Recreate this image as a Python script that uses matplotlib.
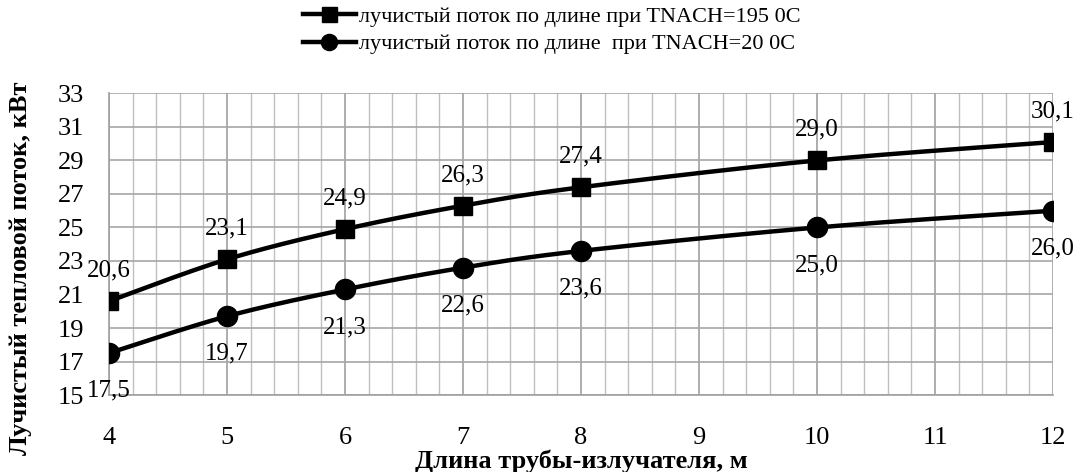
import numpy as np
import matplotlib
matplotlib.use("Agg")
import matplotlib.pyplot as plt
from matplotlib.ticker import MultipleLocator, FixedLocator

# --- data ---
length_m = [4, 5, 6, 7, 8, 10, 12]
flux_195 = [20.6, 23.1, 24.9, 26.3, 27.4, 29.0, 30.1]
flux_20 = [17.5, 19.7, 21.3, 22.6, 23.6, 25.0, 26.0]
y_ticks = [15, 17, 19, 21, 23, 25, 27, 29, 31, 33]
label_195 = "лучистый поток по длине при TNACH=195 0C"
label_20 = "лучистый поток по длине  при TNACH=20 0C"
x_title = "Длина трубы-излучателя, м"
y_title = "Лучистый тепловой поток, кВт"


def smooth_curve(xs, ys, n=40):
    # Bezier smoothing through the points (same scheme spreadsheet charts use)
    p = np.column_stack([xs, ys]).astype(float)
    p = np.vstack([p[0], p, p[-1]])
    out = []
    for i in range(1, len(p) - 2):
        p0, p1, p2, p3 = p[i - 1], p[i], p[i + 1], p[i + 2]
        c1 = p1 + (p2 - p0) / 6.0
        c2 = p2 - (p3 - p1) / 6.0
        t = np.linspace(0, 1, n)[:, None]
        seg = ((1 - t) ** 3) * p1 + 3 * ((1 - t) ** 2) * t * c1 + 3 * (1 - t) * t ** 2 * c2 + t ** 3 * p2
        out.append(seg if i == 1 else seg[1:])
    seg = np.vstack(out)
    return seg[:, 0], seg[:, 1]


plt.rcParams['font.family'] = ['Liberation Serif', 'DejaVu Serif']

fig = plt.figure(figsize=(10.8, 4.72), dpi=100)
ax = fig.add_axes([0.1009, 0.1631, 0.8741, 0.6389])

ax.set_xlim(4, 12)
ax.set_ylim(15, 33)
ax.xaxis.set_major_locator(MultipleLocator(1))
ax.xaxis.set_minor_locator(MultipleLocator(0.2))
ax.yaxis.set_major_locator(FixedLocator(y_ticks))

ax.grid(which='minor', axis='x', color='#c0c0c0', linewidth=1.0)
ax.grid(which='major', axis='x', color='#a0a0a0', linewidth=1.2)
ax.grid(which='major', axis='y', color='#a6a6a6', linewidth=1.2)
ax.set_axisbelow(True)
for s in ax.spines.values():
    s.set_color('#a0a0a0')
    s.set_linewidth(1.2)
ax.spines['top'].set_visible(False)
ax.spines['right'].set_visible(False)

ax.tick_params(which='both', length=0)
ax.tick_params(axis='x', pad=23, labelsize=19)
ax.tick_params(axis='y', pad=18, labelsize=19)

for xs, ys, mk, ms, lab in [(length_m, flux_195, 's', 13.5, label_195),
                            (length_m, flux_20, 'o', 14.5, label_20)]:
    sx, sy = smooth_curve(xs, ys)
    ax.plot(sx, sy, color='black', linewidth=3.2, solid_capstyle='round', zorder=3)
    ax.plot(xs, ys, linestyle='none', marker=mk, markersize=ms, color='black', zorder=4)
    ax.plot([], [], color='black', linewidth=3.2, marker=mk, markersize=ms * 0.8, label=lab)

for x, y in zip(length_m, flux_195):
    ax.annotate(f"{y:.1f}".replace('.', ','), (x, y), xytext=(0, 22), textcoords='offset points',
                ha='center', va='center', fontsize=18, clip_on=False)
for x, y in zip(length_m, flux_20):
    ax.annotate(f"{y:.1f}".replace('.', ','), (x, y), xytext=(0, -27), textcoords='offset points',
                ha='center', va='center', fontsize=18, clip_on=False)

ax.set_xlabel(x_title, fontsize=19, fontweight='bold')
ax.xaxis.set_label_coords(0.5, -0.18)
ax.set_ylabel(y_title, fontsize=19, fontweight='bold')
ax.yaxis.set_label_coords(-0.082, 0.42)

fig.legend(loc='upper left', bbox_to_anchor=(0.272, 1.005), frameon=False, fontsize=16,
           handlelength=2.4, handletextpad=0.15, labelspacing=0.3, borderaxespad=0)

fig.savefig("out.png", dpi=100)
